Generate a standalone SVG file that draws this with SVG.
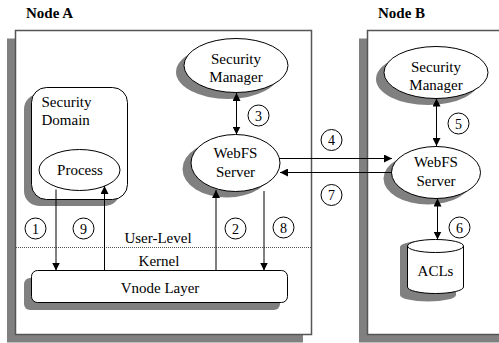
<svg xmlns="http://www.w3.org/2000/svg" width="499" height="343" viewBox="0 0 499 343">
<defs>
<style>
.sh{fill:#808080;stroke:none}
.box{fill:#fff;stroke:#555;stroke-width:1.5}
.nd{fill:#fff;stroke:#000;stroke-width:1}
.t{font-family:"Liberation Serif",serif;font-size:15px;fill:#000;text-anchor:middle}
.tl{font-family:"Liberation Serif",serif;font-size:15px;fill:#000}
.ti{font-family:"Liberation Serif",serif;font-size:15px;font-weight:bold;fill:#000}
.ln{stroke:#000;stroke-width:1;fill:none}
.c{fill:#fff;stroke:#000;stroke-width:1}
.ct{font-family:"Liberation Serif",serif;font-size:14px;fill:#000;text-anchor:middle}
</style>
<marker id="ah" viewBox="0 0 10 10" refX="10" refY="5" markerWidth="8" markerHeight="8" markerUnits="userSpaceOnUse" orient="auto-start-reverse">
<path d="M0,0 L10,5 L0,10 Z" fill="#000"/>
</marker>
</defs>

<g id="nodeA">
<rect class="sh" x="7" y="38.5" width="296" height="304"/>
<rect class="box" x="15.5" y="30.5" width="296" height="304"/>
<text class="ti" x="26" y="18">Node A</text>
</g>
<g id="nodeB">
<rect class="sh" x="359" y="38.5" width="160" height="304"/>
<rect class="box" x="367.5" y="30.5" width="160" height="304"/>
<text class="ti" x="378" y="18">Node B</text>
</g>

<g id="levels">
<line x1="16" y1="247.5" x2="311" y2="247.5" stroke="#555" stroke-width="1" stroke-dasharray="1,1"/>
<text class="t" x="158" y="243">User-Level</text>
<text class="t" x="159" y="266">Kernel</text>
</g>

<g id="securityDomain">
<rect class="sh" x="24" y="94" width="96" height="112" rx="15"/>
<rect class="nd" x="31.5" y="87.5" width="96" height="112" rx="15"/>
<text class="tl" x="41.5" y="107">Security</text>
<text class="tl" x="41.5" y="125">Domain</text>
</g>

<g id="process">
<ellipse class="nd" cx="79.5" cy="170" rx="40.5" ry="20.5"/>
<text class="t" x="80" y="175">Process</text>
</g>

<g id="securityManagerA">
<ellipse class="sh" cx="228" cy="72" rx="52" ry="27"/>
<ellipse class="nd" cx="236" cy="65.5" rx="52" ry="27"/>
<text class="t" x="236" y="63.5">Security</text>
<text class="t" x="236" y="81.5">Manager</text>
</g>

<g id="webfsA">
<ellipse class="sh" cx="227" cy="169" rx="44.5" ry="28.5"/>
<ellipse class="nd" cx="235.5" cy="163" rx="44.5" ry="28.5"/>
<text class="t" x="235.5" y="158">WebFS</text>
<text class="t" x="235.5" y="177">Server</text>
</g>

<g id="vnode">
<rect class="sh" x="24" y="278" width="256" height="32" rx="6"/>
<rect class="nd" x="31.5" y="270.5" width="256" height="32" rx="6"/>
<text class="t" x="160" y="293">Vnode Layer</text>
</g>

<g id="securityManagerB">
<ellipse class="sh" cx="428" cy="79" rx="52" ry="26"/>
<ellipse class="nd" cx="436" cy="72.5" rx="52" ry="26"/>
<text class="t" x="436" y="71.5">Security</text>
<text class="t" x="436" y="90">Manager</text>
</g>

<g id="webfsB">
<ellipse class="sh" cx="428" cy="178.5" rx="44.5" ry="26"/>
<ellipse class="nd" cx="436" cy="172.5" rx="44.5" ry="26"/>
<text class="t" x="436" y="167">WebFS</text>
<text class="t" x="436" y="186">Server</text>
</g>

<g id="acls">
<path class="sh" d="M400,247 A28,6.5 0 0 1 456,247 L456,295 A28,6.5 0 0 1 400,295 Z"/>
<path class="nd" d="M407.5,246 A28,6.5 0 0 1 463.5,246 L463.5,287 A28,6.5 0 0 1 407.5,287 Z"/>
<path class="ln" d="M407.5,246 A28,6.5 0 0 0 463.5,246"/>
<text class="t" x="435.5" y="276">ACLs</text>
</g>

<g id="connectors">
<line class="ln" x1="236.5" y1="93" x2="236.5" y2="134.5" marker-start="url(#ah)" marker-end="url(#ah)"/>
<line class="ln" x1="436.5" y1="98.5" x2="436.5" y2="146" marker-start="url(#ah)" marker-end="url(#ah)"/>
<line class="ln" x1="437.5" y1="198.5" x2="437.5" y2="239.5" marker-start="url(#ah)" marker-end="url(#ah)"/>
<line class="ln" x1="279" y1="158.5" x2="392" y2="158.5" marker-end="url(#ah)"/>
<line class="ln" x1="392" y1="172.5" x2="280" y2="172.5" marker-end="url(#ah)"/>
<line class="ln" x1="56" y1="189.5" x2="56" y2="270.5" marker-end="url(#ah)"/>
<line class="ln" x1="104.5" y1="270.5" x2="104.5" y2="186" marker-end="url(#ah)"/>
<line class="ln" x1="216" y1="270.5" x2="216" y2="190" marker-end="url(#ah)"/>
<line class="ln" x1="264" y1="191" x2="264" y2="270.5" marker-end="url(#ah)"/>
</g>

<g id="labels">
<circle class="c" cx="35.5" cy="228.5" r="10.5"/><text class="ct" x="35.5" y="233.5">1</text>
<circle class="c" cx="83.5" cy="228.5" r="10.5"/><text class="ct" x="83.5" y="233.5">9</text>
<circle class="c" cx="235.5" cy="228.5" r="10.5"/><text class="ct" x="235.5" y="233.5">2</text>
<circle class="c" cx="283.5" cy="227.5" r="10.5"/><text class="ct" x="283.5" y="232.5">8</text>
<circle class="c" cx="258.5" cy="115.5" r="10.5"/><text class="ct" x="258.5" y="120.5">3</text>
<circle class="c" cx="331.5" cy="140" r="10.5"/><text class="ct" x="331.5" y="145">4</text>
<circle class="c" cx="331.5" cy="195" r="10.5"/><text class="ct" x="331.5" y="200">7</text>
<circle class="c" cx="458.5" cy="123.5" r="10.5"/><text class="ct" x="458.5" y="128.5">5</text>
<circle class="c" cx="459.5" cy="227.5" r="10.5"/><text class="ct" x="459.5" y="232.5">6</text>
</g>
</svg>
